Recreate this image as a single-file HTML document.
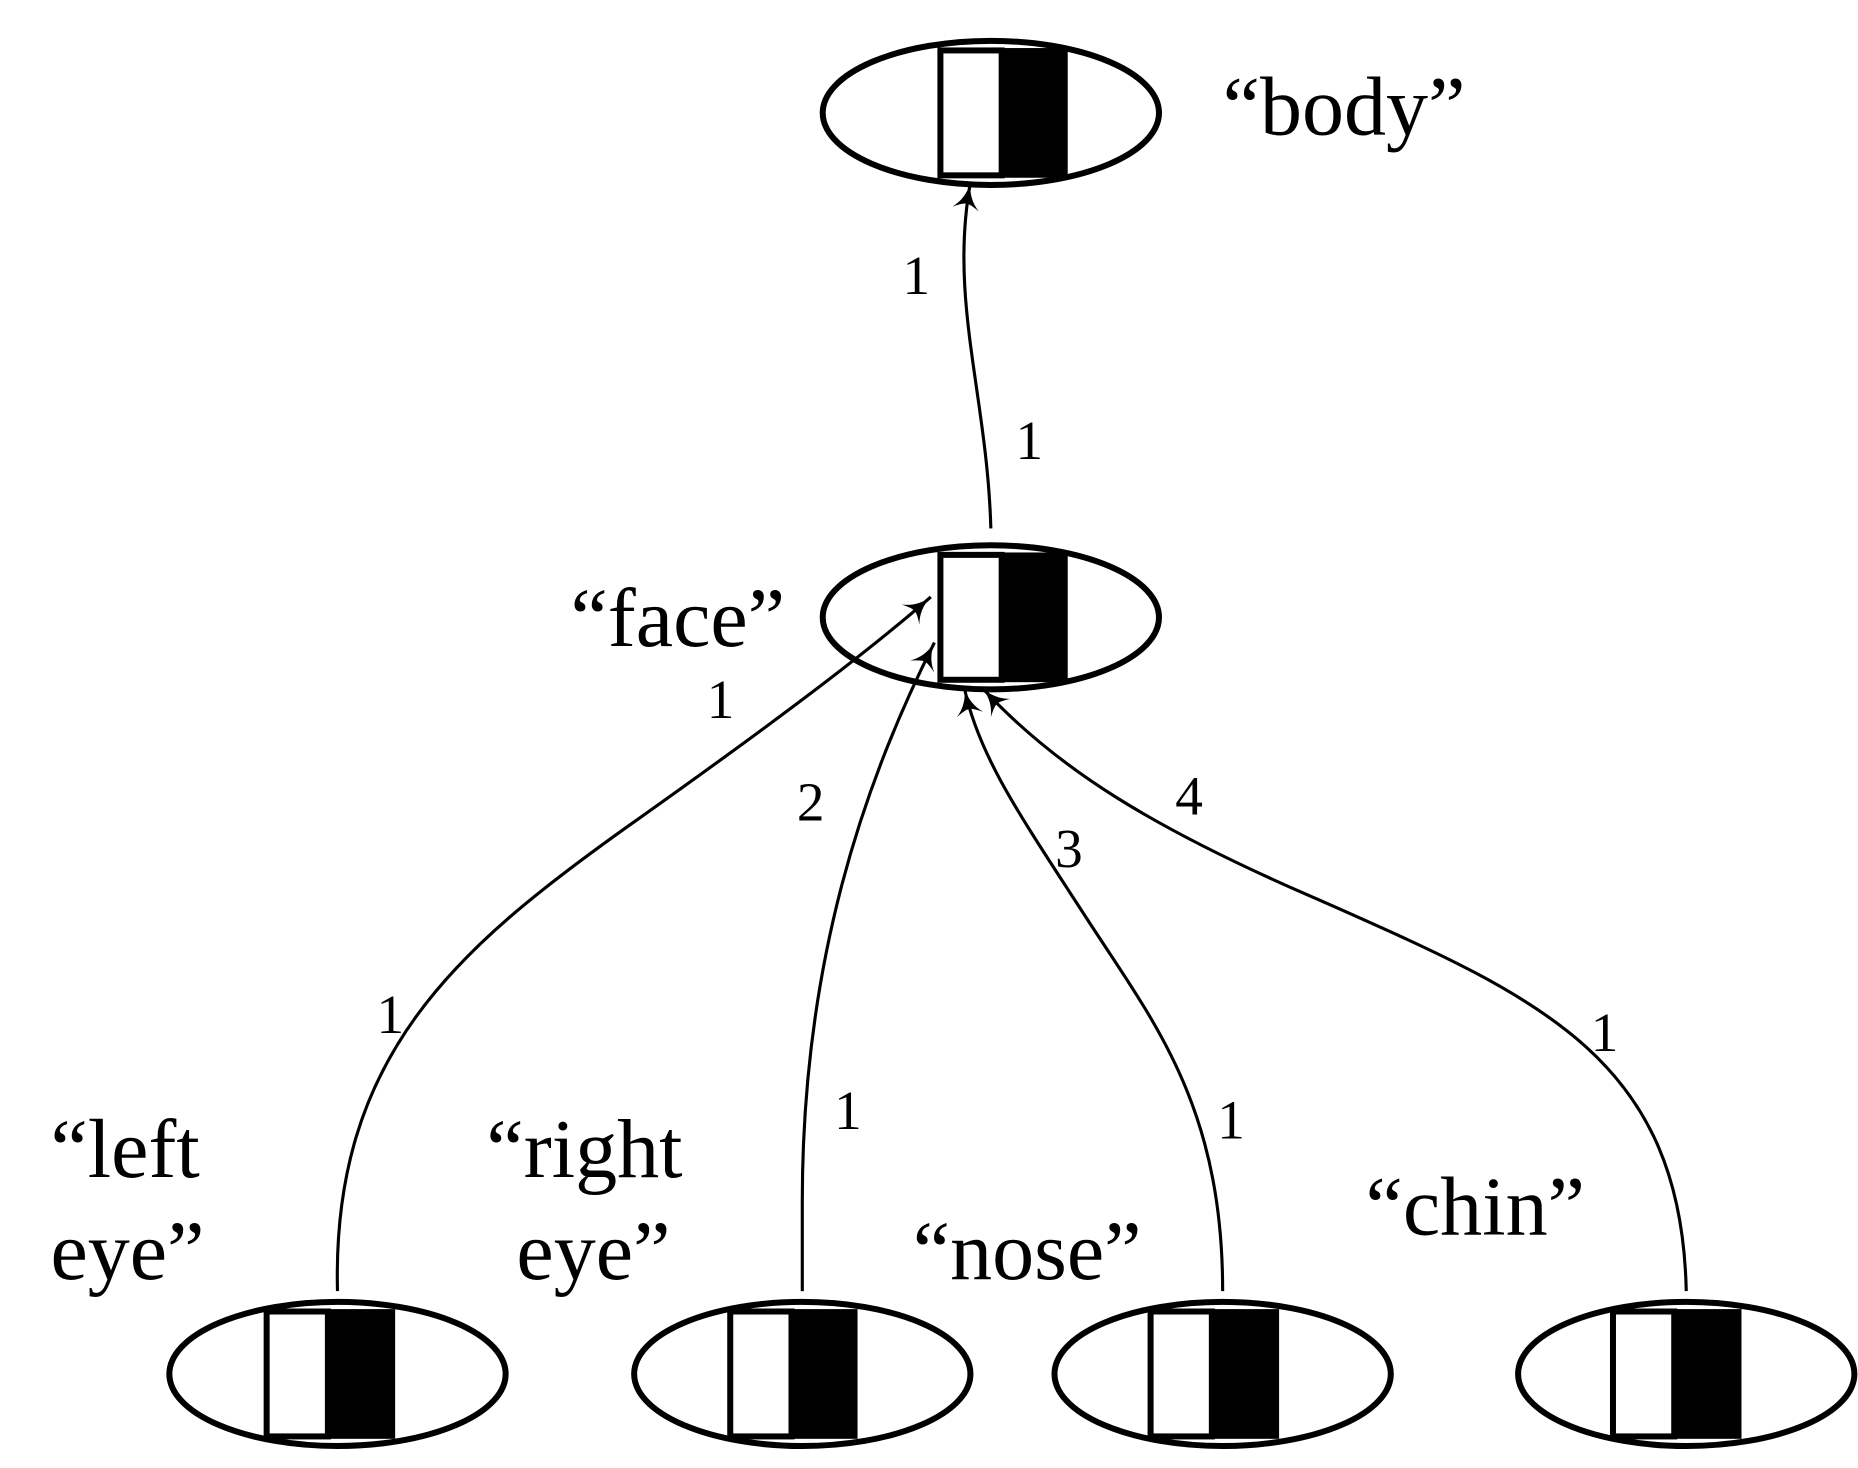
<!DOCTYPE html>
<html><head><meta charset="utf-8"><style>
html,body{margin:0;padding:0;background:#fff}
svg{display:block}
text{font-family:"Liberation Serif",serif;fill:#000}
</style></head><body>
<svg width="1858" height="1468" viewBox="0 0 1547 1222.3" xmlns="http://www.w3.org/2000/svg">
<defs>
<marker id="a" viewBox="0 0 20 20" refX="18" refY="10" markerWidth="28" markerHeight="28" markerUnits="userSpaceOnUse" orient="auto">
<path d="M18 10 Q8 11 2 18 Q6 11 5 10 Q6 9 2 2 Q8 9 18 10Z" fill="#000"/>
</marker>
</defs>
<g fill="none" stroke="#000" stroke-width="5">
<ellipse cx="825" cy="94" rx="140" ry="60"/>
<ellipse cx="825" cy="514" rx="140" ry="60"/>
<ellipse cx="281" cy="1144" rx="140" ry="60"/>
<ellipse cx="668" cy="1144" rx="140" ry="60"/>
<ellipse cx="1018" cy="1144" rx="140" ry="60"/>
<ellipse cx="1404" cy="1144" rx="140" ry="60"/>
</g>
<g stroke="#000" stroke-width="5">
<rect x="783" y="42" width="51" height="104" fill="#fff"/><rect x="832" y="40" width="57" height="108" fill="#000" stroke="none"/>
<rect x="783" y="462" width="51" height="104" fill="#fff"/><rect x="832" y="460" width="57" height="108" fill="#000" stroke="none"/>
<rect x="222" y="1092" width="51" height="104" fill="#fff"/><rect x="271" y="1090" width="58" height="108" fill="#000" stroke="none"/>
<rect x="608" y="1092" width="51" height="104" fill="#fff"/><rect x="657" y="1090" width="57" height="108" fill="#000" stroke="none"/>
<rect x="958" y="1092" width="51" height="104" fill="#fff"/><rect x="1007" y="1090" width="58" height="108" fill="#000" stroke="none"/>
<rect x="1343" y="1092" width="51" height="104" fill="#fff"/><rect x="1392" y="1090" width="58" height="108" fill="#000" stroke="none"/>
</g>
<g fill="none" stroke="#000" stroke-width="2.6" marker-end="url(#a)">
<path d="M825 440 C822 330 790 250 808 152"/>
<path d="M281 1075 C276 880 380 790 520 690 C640 605 720 545 775 497"/>
<path d="M668 1075 L668 1000 C668 800 720 650 778 535"/>
<path d="M1018 1075 C1018 920 960 850 905 765 C850 680 815 630 803 573"/>
<path d="M1404 1075 C1400 880 1280 830 1100 750 C960 690 880 640 818 573"/>
</g>
<g font-size="70">
<text x="1018" y="112">“body”</text>
<text x="475" y="538">“face”</text>
<text x="42" y="980">“left</text>
<text x="42" y="1065">eye”</text>
<text x="405" y="980">“right</text>
<text x="430" y="1065">eye”</text>
<text x="760" y="1065">“nose”</text>
<text x="1137" y="1028">“chin”</text>
</g>
<g font-size="46" text-anchor="middle">
<text x="763" y="245">1</text>
<text x="857" y="382">1</text>
<text x="600" y="598">1</text>
<text x="325" y="860">1</text>
<text x="706" y="940">1</text>
<text x="1025" y="948">1</text>
<text x="1336" y="875">1</text>
<text x="675" y="683">2</text>
<text x="890" y="722">3</text>
<text x="990" y="678">4</text>
</g>
</svg>
</body></html>
